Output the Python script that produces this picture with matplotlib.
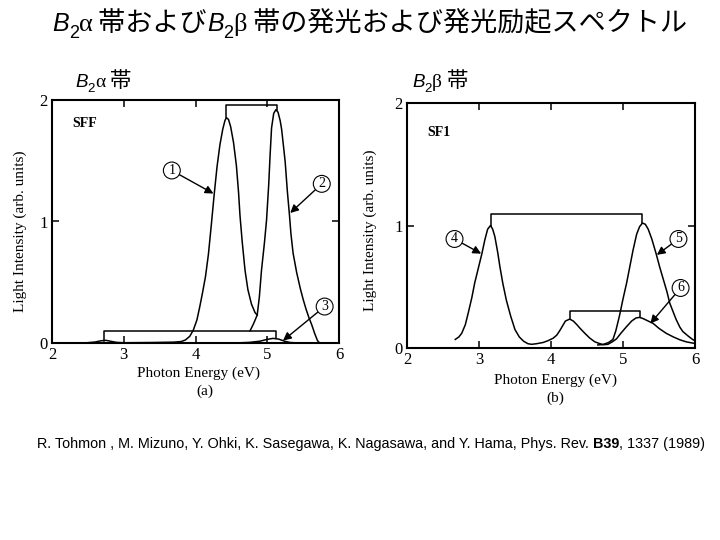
import matplotlib
matplotlib.use('Agg')
import matplotlib.pyplot as plt

W, H = 720, 540

# ---------------- data ----------------
# panel (a) SFF
a1_x = [2.45, 2.60, 2.68, 2.75, 2.82, 2.90, 3.00, 3.40, 3.70, 3.80, 3.86, 3.92, 3.97, 4.02,
        4.06, 4.10, 4.14, 4.18, 4.22, 4.26, 4.30, 4.34, 4.38, 4.41, 4.43, 4.46, 4.49, 4.53,
        4.57, 4.60, 4.62, 4.65, 4.69, 4.73, 4.78, 4.83, 4.86]
a1_y = [0.000, 0.008, 0.018, 0.022, 0.014, 0.005, 0.002, 0.004, 0.007, 0.012, 0.025, 0.055,
        0.107, 0.19, 0.30, 0.42, 0.55, 0.73, 0.97, 1.22, 1.45, 1.63, 1.76, 1.83, 1.855, 1.84,
        1.78, 1.65, 1.46, 1.24, 1.05, 0.84, 0.60, 0.44, 0.32, 0.25, 0.23]

a2_x = [4.76, 4.81, 4.86, 4.89, 4.92, 4.96, 4.99, 5.02, 5.04, 5.06, 5.09, 5.12, 5.15, 5.18,
        5.20, 5.23, 5.25, 5.28, 5.31, 5.33, 5.36, 5.41, 5.46, 5.50, 5.54, 5.58, 5.62, 5.66,
        5.70, 5.73]
a2_y = [0.10, 0.16, 0.23, 0.38, 0.60, 0.82, 1.01, 1.30, 1.55, 1.77, 1.89, 1.92, 1.90, 1.83,
        1.76, 1.60, 1.49, 1.25, 1.05, 0.90, 0.74, 0.58, 0.45, 0.36, 0.28, 0.21, 0.15, 0.08,
        0.02, 0.00]

a3_x = [4.55, 4.75, 4.90, 5.00, 5.08, 5.16, 5.24, 5.32, 5.45]
a3_y = [0.000, 0.005, 0.015, 0.030, 0.038, 0.032, 0.015, 0.004, 0.000]

a_top_x = [4.42, 4.42, 5.14, 5.14]
a_top_y = [1.86, 1.955, 1.955, 1.92]
a_low_x = [2.73, 2.73, 5.12, 5.12]
a_low_y = [0.02, 0.095, 0.095, 0.04]

# panel (b) SF1
b4_x = [2.67, 2.72, 2.76, 2.81, 2.85, 2.90, 2.94, 2.99, 3.04, 3.08, 3.12, 3.16, 3.19, 3.22,
        3.26, 3.29, 3.33, 3.38, 3.44, 3.50, 3.56, 3.62, 3.68, 3.73, 3.80, 3.89, 3.96, 4.03,
        4.08, 4.12, 4.16, 4.20, 4.26, 4.31, 4.36, 4.40, 4.47, 4.54, 4.61, 4.68, 4.73, 4.79,
        4.85, 4.91, 4.97, 5.05, 5.12, 5.18, 5.23, 5.28, 5.35, 5.42, 5.50, 5.60, 5.70, 5.79,
        5.88, 5.97, 6.00]
b4_y = [0.07, 0.09, 0.12, 0.19, 0.285, 0.41, 0.53, 0.65, 0.77, 0.88, 0.97, 1.00, 0.97, 0.91,
        0.78, 0.665, 0.53, 0.39, 0.26, 0.15, 0.09, 0.055, 0.035, 0.03, 0.035, 0.045, 0.06,
        0.08, 0.105, 0.14, 0.18, 0.22, 0.236, 0.22, 0.19, 0.163, 0.12, 0.08, 0.05, 0.035,
        0.027, 0.03, 0.05, 0.075, 0.12, 0.175, 0.22, 0.245, 0.25, 0.24, 0.22, 0.20, 0.16,
        0.12, 0.09, 0.067, 0.05, 0.04, 0.038]

b5_x = [4.65, 4.72, 4.80, 4.86, 4.90, 4.95, 5.00, 5.05, 5.10, 5.14, 5.19, 5.23, 5.27, 5.31,
        5.35, 5.40, 5.46, 5.51, 5.56, 5.61, 5.65, 5.70, 5.74, 5.79, 5.83, 5.90, 5.97, 6.00]
b5_y = [0.025, 0.028, 0.045, 0.07, 0.14, 0.26, 0.40, 0.53, 0.68, 0.80, 0.93, 0.99, 1.02, 1.01,
        0.97, 0.89, 0.77, 0.66, 0.56, 0.46, 0.365, 0.29, 0.23, 0.17, 0.135, 0.10, 0.068, 0.06]

b_top_x = [3.165, 3.165, 5.27, 5.27]
b_top_y = [1.00, 1.095, 1.095, 1.02]
b_low_x = [4.27, 4.27, 5.23, 5.23]
b_low_y = [0.236, 0.305, 0.305, 0.25]

x_ticks = [2, 3, 4, 5, 6]
y_ticks = [0, 1, 2]

# annotations: label, circle centre, arrow tip
a_marks = [("1", (3.67, 1.42), (4.25, 1.23)),
           ("2", (5.76, 1.31), (5.32, 1.07)),
           ("3", (5.80, 0.30), (5.22, 0.02))]
b_marks = [("4", (2.66, 0.89), (3.03, 0.77)),
           ("5", (5.77, 0.89), (5.47, 0.76)),
           ("6", (5.80, 0.49), (5.38, 0.20))]

title_cjk1 = " 帯および"
title_cjk2 = " 帯の発光および発光励起スペクトル"
sub_cjk = " 帯"
cite_a = "R. Tohmon , M. Mizuno, Y. Ohki, K. Sasegawa, K. Nagasawa, and Y. Hama, Phys. Rev. "
cite_b = "B39"
cite_c = ", 1337 (1989)"

# ---------------- figure ----------------
fig = plt.figure(figsize=(7.2, 5.4), dpi=100)
fig.patch.set_facecolor('white')

SERIF = 'Liberation Serif'
SANS = 'Liberation Sans'
CJK = 'Noto Sans CJK JP'


def px_axes(l, t, r, b):
    return fig.add_axes([l / W, 1 - b / H, (r - l) / W, (b - t) / H])


def style_axes(ax):
    ax.set_xlim(2, 6)
    ax.set_ylim(0, 2)
    ax.set_xticks(x_ticks)
    ax.set_yticks(y_ticks)
    ax.set_xticklabels([str(v) for v in x_ticks], family=SERIF, fontsize=12)
    ax.set_yticklabels([str(v) for v in y_ticks], family=SERIF, fontsize=12)
    ax.tick_params(direction='in', length=5, width=1.1, top=True, right=True,
                   pad=3)
    for s in ax.spines.values():
        s.set_linewidth(1.5)


ax1 = px_axes(52, 100, 339, 343)
ax2 = px_axes(407, 103, 695, 348)
for ax in (ax1, ax2):
    style_axes(ax)

lw = 1.1
ax1.plot(a1_x, a1_y, color='k', lw=lw)
ax1.plot(a2_x, a2_y, color='k', lw=lw)
ax1.plot(a3_x, a3_y, color='k', lw=lw)
ax1.plot(a_top_x, a_top_y, color='k', lw=lw)
ax1.plot(a_low_x, a_low_y, color='k', lw=lw)

ax2.plot(b4_x, b4_y, color='k', lw=lw, clip_on=True)
ax2.plot(b5_x, b5_y, color='k', lw=lw, clip_on=True)
ax2.plot(b_top_x, b_top_y, color='k', lw=lw)
ax2.plot(b_low_x, b_low_y, color='k', lw=lw)

for ax, marks in ((ax1, a_marks), (ax2, b_marks)):
    for lab, c, tip in marks:
        ax.annotate(lab, xy=tip, xytext=c, ha='center', va='center',
                    family=SERIF, fontsize=10,
                    bbox=dict(boxstyle='circle,pad=0.14', fc='white', ec='k', lw=0.8),
                    arrowprops=dict(arrowstyle='-|>', color='k', lw=1.0,
                                    mutation_scale=12, shrinkA=0, shrinkB=0))

ax1.text(2.28, 1.81, "SFF", family=SERIF, fontsize=10, fontweight='bold',
         ha='left', va='center')
ax2.text(2.28, 1.76, "SF1", family=SERIF, fontsize=10, fontweight='bold',
         ha='left', va='center')


def ftext(x, y, s, **kw):
    return fig.text(x / W, 1 - y / H, s, **kw)


# axis labels (scanned figure style)
ftext(198, 373, "Photon Energy (eV)", family=SERIF, fontsize=11, ha='center', va='center')
ftext(205, 391, "(a)", family=SERIF, fontsize=11, ha='center', va='center')
ftext(555, 380, "Photon Energy (eV)", family=SERIF, fontsize=11, ha='center', va='center')
ftext(555, 398, "(b)", family=SERIF, fontsize=11, ha='center', va='center')
ftext(20, 231, "Light Intensity (arb. units)", family=SERIF, fontsize=11,
      rotation=90, ha='center', va='center')
ftext(370, 230, "Light Intensity (arb. units)", family=SERIF, fontsize=11,
      rotation=90, ha='center', va='center')

renderer = fig.canvas.get_renderer()


def runs(x0, y0, parts):
    x = x0
    for s, kw, dy in parts:
        t = ftext(x, y0 + dy, s, ha='left', va='baseline', **kw)
        x += t.get_window_extent(renderer).width
    return x


it = dict(family=SANS, style='italic')
rm = dict(family=SANS)
gr = dict(family=SERIF)
cj = dict(family=CJK)

# title
runs(52, 31, [("B", dict(it, fontsize=18), 0),
              ("2", dict(rm, fontsize=13), 6.5),
              ("α", dict(gr, fontsize=19), 0),
              (title_cjk1, dict(cj, fontsize=19.5), 0),
              ("B", dict(it, fontsize=18), 0),
              ("2", dict(rm, fontsize=13), 6.5),
              ("β", dict(gr, fontsize=19), 0),
              (title_cjk2, dict(cj, fontsize=19.5), 0)])

# subtitles
for x0, g in ((75, "α"), (412, "β")):
    runs(x0, 87, [("B", dict(it, fontsize=13.5), 0),
                  ("2", dict(rm, fontsize=9.5), 4.5),
                  (g, dict(gr, fontsize=14), 0),
                  (sub_cjk, dict(cj, fontsize=15.5), 0)])

# citation
runs(37, 448, [(cite_a, dict(rm, fontsize=10.4), 0),
               (cite_b, dict(rm, fontsize=10.4, fontweight='bold'), 0),
               (cite_c, dict(rm, fontsize=10.4), 0)])

fig.savefig('out.png', dpi=100, facecolor='white')
